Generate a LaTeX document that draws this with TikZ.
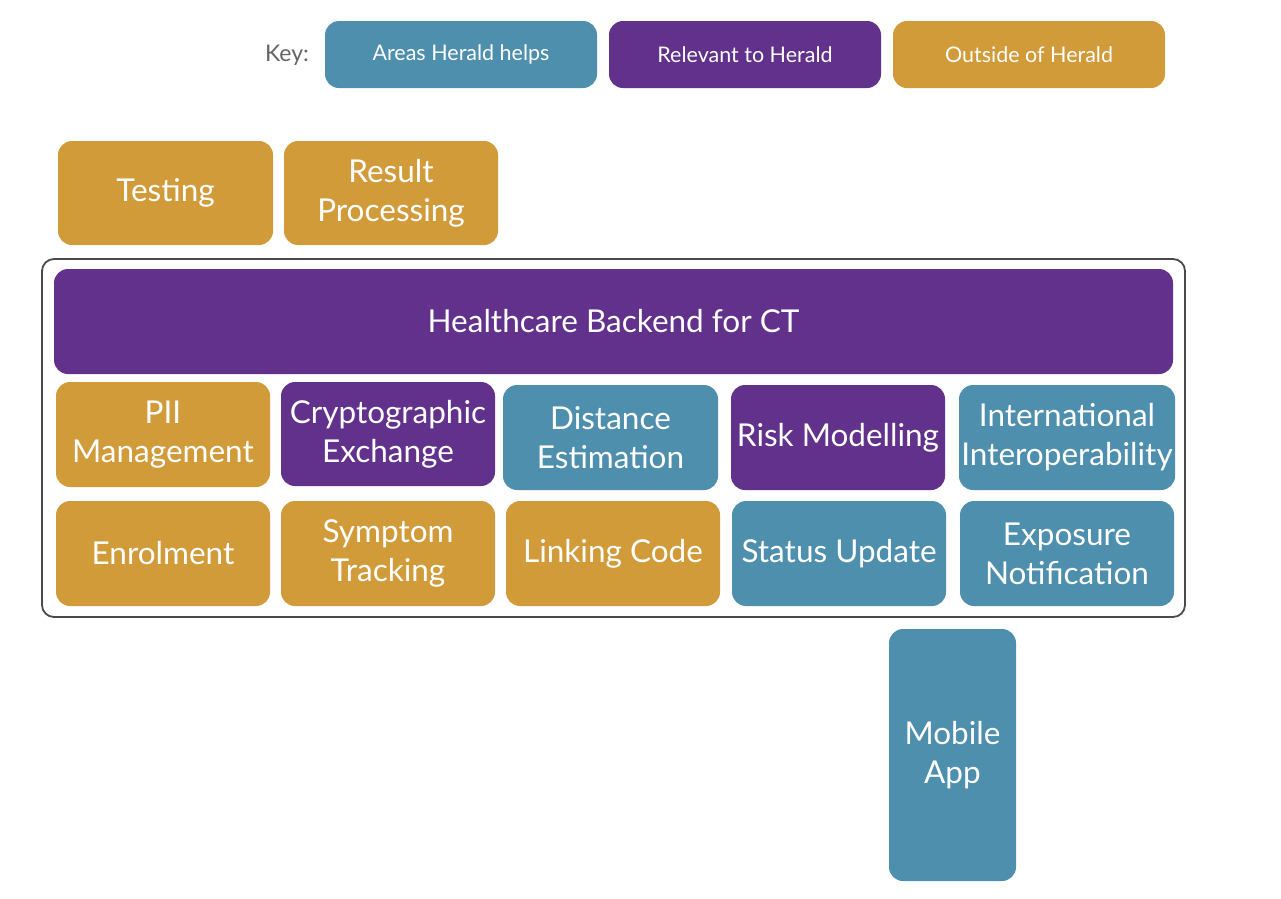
\documentclass[tikz,border=0pt]{standalone}
\usepackage{fontspec}
\setmainfont{Lato}
\definecolor{hblue}{HTML}{4E8FAE}
\definecolor{hpurple}{HTML}{62318C}
\definecolor{horange}{HTML}{D19B3A}
\definecolor{frame}{HTML}{4A4A4A}
\begin{document}
\begin{tikzpicture}[x=1pt,y=-1pt,
  box/.style={rounded corners=14pt, inner sep=0pt, text=white, align=center, font=\fontsize{31.5}{39}\selectfont},
  keybox/.style={rounded corners=14pt, inner sep=0pt, text=white, align=center, font=\fontsize{21.5}{26}\selectfont}]
\useasboundingbox (0,0) rectangle (1281,898);
% Key
\node[text=frame!85, font=\fontsize{23}{27}\selectfont] (key) at (287,55) {Key:};
\node[keybox, fill=hblue, minimum width=272, minimum height=67] (k1) at (461,54.5) {Areas Herald helps};
\node[keybox, fill=hpurple, minimum width=272, minimum height=67] (k2) at (745,54.5) {Relevant to Herald};
\node[keybox, fill=horange, minimum width=272, minimum height=67] (k3) at (1029,54.5) {Outside of Herald};
% Top
\node[box, fill=horange, minimum width=215, minimum height=104] (test) at (165.5,193) {Testing};
\node[box, fill=horange, minimum width=214, minimum height=104] (res) at (391,193) {Result\\Processing};
% frame
\node[draw=frame, line width=1.8pt, rounded corners=12pt, minimum width=1143, minimum height=358, inner sep=0pt] (frm) at (613.5,438) {};
\node[box, fill=hpurple, minimum width=1119, minimum height=105] (hb) at (613.5,321.5) {Healthcare Backend for CT};
% Row 1
\node[box, fill=horange, minimum width=214, minimum height=105] (pii) at (163,434.5) {PII\\Management};
\node[box, fill=hpurple, minimum width=214, minimum height=104] (cry) at (388,434) {Cryptographic\\Exchange};
\node[box, fill=hblue, minimum width=215, minimum height=105] (dist) at (610.5,437.5) {Distance\\Estimation};
\node[box, fill=hpurple, minimum width=214, minimum height=105] (risk) at (838,437.5) {Risk Modelling};
\node[box, fill=hblue, minimum width=216, minimum height=105] (intl) at (1067,437.5) {International\\Interoperability};
% Row 2
\node[box, fill=horange, minimum width=214, minimum height=105] (enr) at (163,553.5) {Enrolment};
\node[box, fill=horange, minimum width=214, minimum height=105] (sym) at (388,553.5) {Symptom\\Tracking};
\node[box, fill=horange, minimum width=214, minimum height=105] (link) at (613,553.5) {Linking Code};
\node[box, fill=hblue, minimum width=214, minimum height=105] (stat) at (839,553.5) {Status Update};
\node[box, fill=hblue, minimum width=214, minimum height=105] (expo) at (1067,553.5) {Exposure\\Notification};
% Mobile
\node[box, fill=hblue, minimum width=127, minimum height=252] (mob) at (952.5,755) {Mobile\\App};
\end{tikzpicture}
\end{document}
